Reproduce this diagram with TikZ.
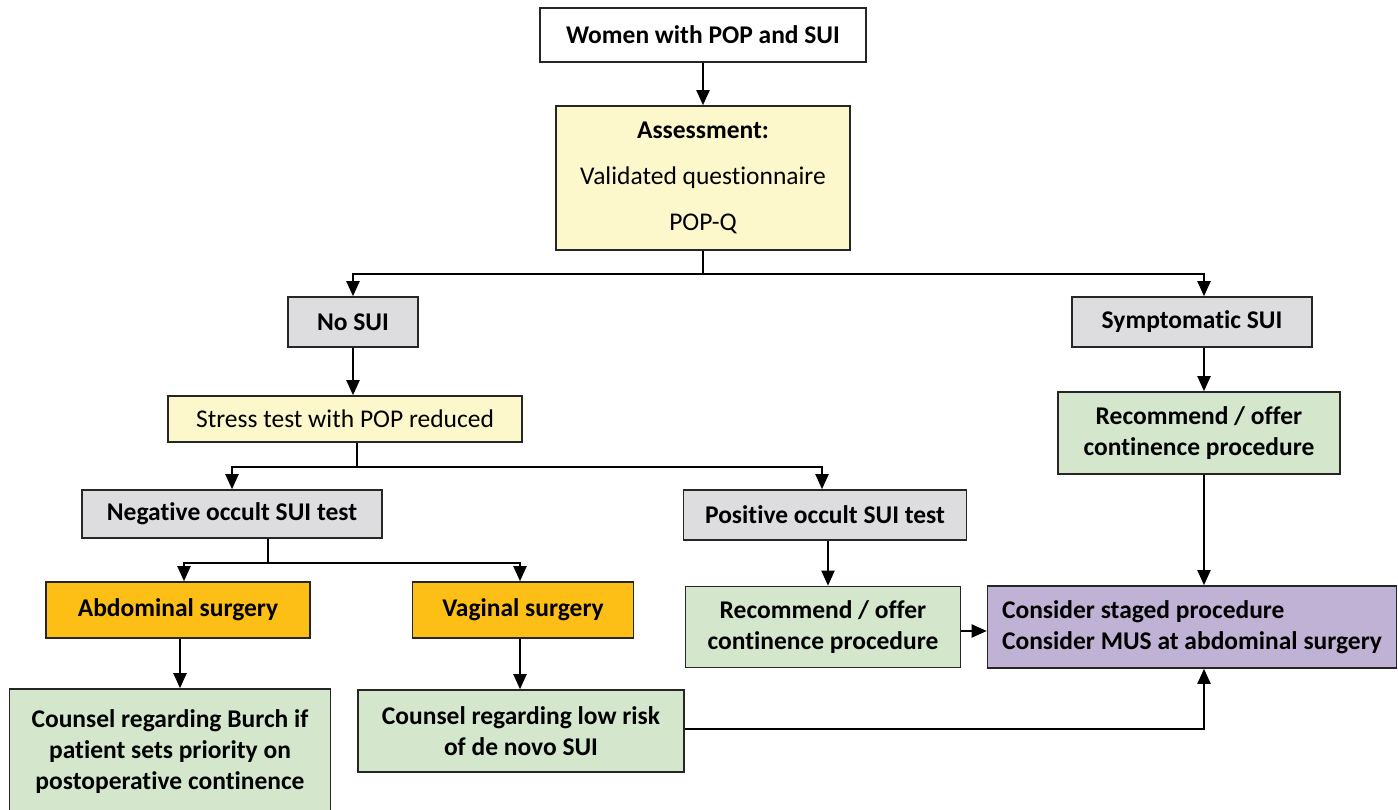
\documentclass[tikz,border=0pt]{standalone}
\usepackage{fontspec}
\setmainfont{Carlito}[Ligatures=NoCommon]
\usetikzlibrary{arrows.meta,calc}
\definecolor{boxgrey}{HTML}{DDDDDF}
\definecolor{boxyellow}{HTML}{FCF8CC}
\definecolor{boxgreen}{HTML}{D4E7CD}
\definecolor{boxorange}{HTML}{FDBF16}
\definecolor{boxpurple}{HTML}{C0B2D5}
\tikzset{
  box/.style={draw=black!85, line width=1.6pt, align=center, inner sep=0pt,
    font=\fontsize{25.5}{31}\selectfont},
  plainbox/.style={box, fill=white, font=\fontsize{25.5}{31}\selectfont\bfseries},
  greybox/.style={box, fill=boxgrey, font=\fontsize{25.5}{31}\selectfont\bfseries},
  yellowbox/.style={box, fill=boxyellow},
  greenbox/.style={box, fill=boxgreen, font=\fontsize{25.5}{31}\selectfont\bfseries},
  orangebox/.style={box, fill=boxorange, font=\fontsize{25.5}{31}\selectfont\bfseries},
  purplebox/.style={box, fill=boxpurple, font=\fontsize{25.5}{31}\selectfont\bfseries},
  arr/.style={-{Triangle[length=15pt,width=13pt]}, line width=2pt},
  link/.style={line width=2pt}
}
\begin{document}
\begin{tikzpicture}[x=1pt,y=-1pt]
\useasboundingbox (0,0) rectangle (1398,810);
\coordinate (rcol) at (1204,0);
% top
\node[plainbox, minimum width=326, minimum height=54] (women) at (703,35) {Women with POP and SUI};
\node[yellowbox, minimum width=294, minimum height=144] (assess) at (703,178)
  {\textbf{Assessment:}\\[15pt]Validated questionnaire\\[15pt]POP-Q};
% first split
\node[greybox, minimum width=130, minimum height=50] (nosui) at (353,322) {No SUI};
\node[greybox, minimum width=240, minimum height=50] (symsui) at (1192,322) {Symptomatic SUI};
\node[yellowbox, minimum width=354, minimum height=46] (stress) at (345,419) {Stress test with POP reduced};
\node[greenbox, minimum width=282, minimum height=82] (recright) at (1199,433) {Recommend / offer\\continence procedure};
% occult test
\node[greybox, minimum width=300, minimum height=48] (neg) at (232,514) {Negative occult SUI test};
\node[greybox, minimum width=283, minimum height=50] (pos) at (825,515) {Positive occult SUI test};
\node[orangebox, minimum width=264, minimum height=56] (abd) at (178,610) {Abdominal surgery};
\node[orangebox, minimum width=221, minimum height=56] (vag) at (523,610) {Vaginal surgery};
\node[greenbox, minimum width=275, minimum height=81] (recleft) at (823,627) {Recommend / offer\\continence procedure};
\node[purplebox, minimum width=409, minimum height=82, align=left] (staged) at (1192,627)
  {Consider staged procedure\\Consider MUS at abdominal surgery};
% counselling
\node[greenbox, minimum width=321, minimum height=126] (burch) at (170,752)
  {Counsel regarding Burch if\\patient sets priority on\\postoperative continence};
\node[greenbox, minimum width=326, minimum height=82] (lowrisk) at (521,731)
  {Counsel regarding low risk\\of de novo SUI};
% connectors
\draw[arr] (women) -- (assess);
\draw[link] (assess.south) -- ++(0,23) coordinate (topsplit);
\draw[arr] (topsplit) -| (nosui.north);
\draw[arr] (topsplit) -| (rcol |- symsui.north);
\draw[arr] (nosui.south) -- (nosui.south |- stress.north);
\draw[link] ($(stress.south)+(12,0)$) -- ++(0,24) coordinate (stresssplit);
\draw[arr] (stresssplit) -| (neg.north);
\draw[arr] (stresssplit) -| ($(pos.north)-(3,0)$);
\draw[link] ($(neg.south)+(36,0)$) -- ++(0,24) coordinate (negsplit);
\draw[arr] (negsplit) -| ($(abd.north)+(6,0)$);
\draw[arr] (negsplit) -| ($(vag.north)-(3,0)$);
\draw[arr] ($(abd.south)+(2,0)$) -- ($(abd.south |- burch.north)+(2,0)$);
\draw[arr] ($(vag.south)-(3,0)$) -- ($(vag.south |- lowrisk.north)-(3,0)$);
\draw[arr] ($(pos.south)+(3,0)$) -- ($(pos.south |- recleft.north)+(3,0)$);
\draw[arr] (rcol |- symsui.south) -- (rcol |- recright.north);
\draw[arr] (rcol |- recright.south) -- (rcol |- staged.north);
\draw[arr] ($(recleft.east)+(0,4)$) -- ($(recleft.east -| staged.west)+(0,4)$);
\draw[arr] ($(lowrisk.east)-(0,2)$) -| (rcol |- staged.south);
\end{tikzpicture}
\end{document}
